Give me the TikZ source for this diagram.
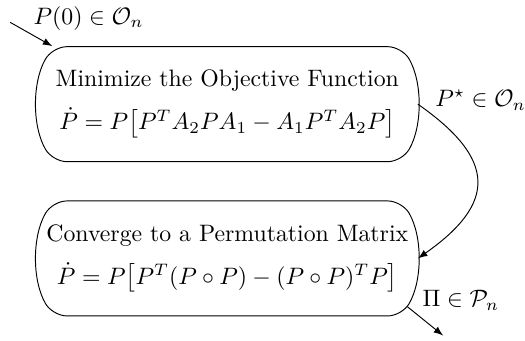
\documentclass[tikz,border=0pt]{standalone}
\usepackage{amsmath}
\usetikzlibrary{shapes.misc}
\begin{document}
\begin{tikzpicture}[
  line width=0.4pt,
    stage/.style={draw, rounded rectangle, rounded rectangle arc length=60,
                  rounded corners=6pt, minimum width=5.62cm, minimum height=1.7cm,
                  align=center, inner sep=0pt},
    lbl/.style={anchor=west, inner sep=0pt},
    flow/.style={-latex},
]
\useasboundingbox (0,0) rectangle (7.76,5.03);
\node[stage] (min) at (3.36,3.49) {Minimize the Objective Function\\[6pt]
  $\dot{P}=P\big[P^TA_2PA_1-A_1P^TA_2P\big]$};
\node[stage] (conv) at (3.36,1.21) {Converge to a Permutation Matrix\\[6pt]
  $\dot{P}=P\big[P^T(P\circ P)-(P\circ P)^TP\big]$};
\coordinate (start) at (0.15,4.70);
\coordinate (stop) at (6.55,0.07);
\draw[flow] (start) -- (min.north west);
\draw[flow] (min.east) to[out=-35, in=35, looseness=1.6] (conv.east);
\draw[flow] (conv.-15) -- (stop);
\node[lbl] (init) at (0.49,4.76) {$P(0)\in\mathcal{O}_n$};
\node[lbl] (mid) at (6.43,3.55) {$P^\star\in\mathcal{O}_n$};
\node[lbl] (out) at (6.24,0.59) {$\Pi\in\mathcal{P}_n$};
\end{tikzpicture}
\end{document}
